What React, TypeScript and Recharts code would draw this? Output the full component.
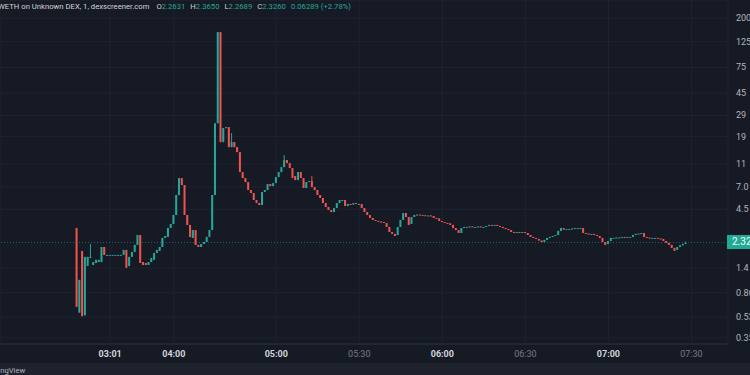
import { ComposedChart, Bar, XAxis, YAxis, CartesianGrid, ReferenceLine } from "recharts";

// 1-minute candles (price in WETH terms)
const opens = [
  3.11, 0.58, 1.97, 0.55, 1.46, 1.71, 1.49, 1.55, 1.58, 1.58,
  2.13, 1.82, 1.82, 1.82, 1.82, 1.82, 1.82, 1.82, 2.01, 1.46,
  1.75, 1.93, 2.22, 2.7, 1.58, 1.55, 1.49, 1.58, 1.65, 1.89,
  1.97, 2.13, 2.55, 2.6, 3.11, 3.36, 4.02, 5.97, 8.36, 7.28,
  4.02, 3.3, 2.55, 2.98, 2.22, 2.13, 2.26, 2.35, 2.6, 2.98,
  5.97, 24.8, 151, 17.05, 22.5, 22.95, 15.44, 17.05, 15.44, 13.99,
  9.41, 8.36, 7.72, 6.59, 6.21, 5.41, 5.1, 4.9, 6.34, 6.59,
  7.42, 7.13, 7.57, 8.53, 9.41, 10.39, 11.94, 11.25, 10.19, 8.7,
  8.03, 9.41, 8.36, 6.86, 7.72, 7.88, 6.99, 6.59, 5.97, 5.63,
  5.1, 4.71, 4.44, 4.26, 4.61, 5.1, 5.3, 5.41, 4.8, 5.0,
  4.95, 5.1, 5.0, 5.0, 4.61, 4.26, 4.02, 3.79, 3.64, 3.57,
  3.53, 3.5, 3.43, 3.17, 2.87, 2.76, 2.7, 3.17, 3.64, 4.18,
  3.86, 3.36, 3.86, 4.02, 4.05, 4.02, 4.0, 3.98, 3.98, 3.94,
  3.79, 3.75, 3.57, 3.5, 3.43, 3.4, 3.3, 3.1, 2.98, 2.81,
  3.1, 3.17, 3.17, 3.2, 3.17, 3.17, 3.2, 3.17, 3.17, 3.23,
  3.3, 3.26, 3.3, 3.23, 3.17, 3.1, 3.04, 2.98, 2.87, 2.81,
  2.87, 2.84, 2.87, 2.81, 2.7, 2.6, 2.55, 2.5, 2.42, 2.35,
  2.45, 2.55, 2.6, 2.65, 2.7, 2.93, 3.1, 3.01, 3.04, 3.04,
  3.07, 3.1, 3.1, 3.1, 2.81, 2.78, 2.76, 2.76, 2.7, 2.65,
  2.55, 2.35, 2.26, 2.4, 2.55, 2.55, 2.57, 2.57, 2.6, 2.57,
  2.6, 2.6, 2.7, 2.76, 2.78, 2.81, 2.6, 2.57, 2.55, 2.55,
  2.55, 2.52, 2.5, 2.4, 2.31, 2.22, 2.09, 2.01, 2.13, 2.2,
  2.2631,
];
const closes = [
  0.65, 1.11, 0.54, 1.75, 1.75, 1.75, 1.58, 1.65, 1.65, 2.13,
  1.82, 1.82, 1.82, 1.82, 1.82, 1.82, 1.82, 2.01, 1.41, 1.75,
  1.93, 2.22, 2.7, 1.55, 1.49, 1.49, 1.58, 1.71, 1.89, 2.01,
  2.13, 2.55, 2.65, 3.11, 3.36, 4.02, 5.97, 8.36, 7.28, 4.02,
  3.3, 2.6, 2.98, 2.22, 2.13, 2.26, 2.35, 2.6, 2.98, 5.97,
  24.8, 151, 17.05, 22.5, 22.95, 15.44, 17.05, 15.44, 13.99, 9.41,
  8.36, 7.72, 6.59, 6.21, 5.41, 5.1, 4.9, 6.34, 6.59, 7.42,
  7.13, 7.57, 8.53, 9.41, 10.39, 11.94, 11.25, 10.19, 8.36, 8.03,
  9.41, 8.36, 6.86, 7.72, 7.88, 6.99, 6.59, 5.97, 5.63, 5.1,
  4.71, 4.44, 4.26, 4.61, 5.1, 5.41, 5.41, 4.8, 5.0, 4.95,
  5.1, 5.0, 5.0, 4.61, 4.26, 4.02, 3.79, 3.64, 3.57, 3.53,
  3.5, 3.43, 3.17, 2.87, 2.76, 2.65, 3.17, 3.64, 4.18, 3.86,
  3.3, 3.86, 4.02, 4.05, 4.02, 4.0, 3.98, 3.98, 3.94, 3.79,
  3.75, 3.57, 3.5, 3.43, 3.4, 3.3, 3.1, 2.98, 2.81, 3.1,
  3.17, 3.17, 3.2, 3.17, 3.17, 3.2, 3.17, 3.17, 3.23, 3.3,
  3.26, 3.3, 3.23, 3.17, 3.1, 3.04, 2.98, 2.87, 2.81, 2.87,
  2.84, 2.87, 2.81, 2.7, 2.6, 2.55, 2.5, 2.42, 2.35, 2.45,
  2.55, 2.6, 2.65, 2.7, 2.93, 3.1, 3.01, 3.04, 3.04, 3.07,
  3.1, 3.1, 3.1, 2.81, 2.78, 2.76, 2.76, 2.7, 2.65, 2.55,
  2.35, 2.22, 2.4, 2.55, 2.55, 2.57, 2.57, 2.6, 2.57, 2.6,
  2.6, 2.7, 2.76, 2.78, 2.81, 2.6, 2.57, 2.55, 2.55, 2.55,
  2.52, 2.5, 2.4, 2.31, 2.22, 2.09, 1.97, 2.13, 2.2, 2.263,
  2.326,
];
// only the few candles with a visible upper wick
const wickAt = [5, 56, 75, 85, 220];
const wickHigh = [2.26, 20.4, 13.2, 8.7, 2.365];

const timeTicks = [12, 35, 72, 102, 132, 162, 192, 222];
const timeLabels = ["03:01", "04:00", "05:00", "05:30", "06:00", "06:30", "07:00", "07:30"];
const timeBold = [true, true, true, false, true, false, true, false];

const priceTicks = [320, 200, 125, 75, 45, 29, 19, 11, 7, 4.5, 1.4, 0.86, 0.53, 0.35];
const priceLabels = ["320", "200", "125", "75", "45", "29", "19", "11", "7.0", "4.5", "1.4", "0.86", "0.53", "0.35"];

const lastPrice = 2.326;

const GREEN = "#26a69a";
const RED = "#ef5350";
const BG = "#161a25";
const FONT = "Roboto, 'Noto Sans', sans-serif";

const candles = opens.map((o, i) => {
  const c = closes[i];
  const k = wickAt.indexOf(i);
  const high = Math.max(o, c, k >= 0 ? wickHigh[k] : 0);
  const low = Math.min(o, c);
  return { i, open: o, close: c, high, low, range: [low, high] };
});

const Candle = (props: any) => {
  const { x, y, width, height, payload } = props;
  const { open, close, high, low } = payload;
  const color = close >= open ? GREEN : RED;
  const top = Math.min(y, y + height);
  const h = Math.abs(height);
  const span = Math.log(high) - Math.log(low);
  const toY = (v: number) => (span > 0 ? top + (h * (Math.log(high) - Math.log(v))) / span : top);
  const bTop = toY(Math.max(open, close));
  const bBot = toY(Math.min(open, close));
  const cx = x + width / 2;
  return (
    <g>
      <line x1={cx} x2={cx} y1={top} y2={top + h} stroke={color} strokeWidth={1} />
      <rect x={x} y={bTop} width={width} height={Math.max(1, bBot - bTop)} fill={color} />
    </g>
  );
};

const TimeTick = (props: any) => {
  const { x, payload } = props;
  const k = timeTicks.indexOf(payload.value);
  const bold = timeBold[k];
  return (
    <text
      x={x}
      y={357}
      textAnchor="middle"
      fontSize={9}
      fontFamily={FONT}
      fontWeight={bold ? 700 : 400}
      fill={bold ? "#d1d4dc" : "#787b86"}
    >
      {timeLabels[k]}
    </text>
  );
};

const PriceTick = (props: any) => {
  const { y, payload } = props;
  const k = priceTicks.indexOf(payload.value);
  return (
    <text x={736} y={y + 3} fontSize={9} fontFamily={FONT} fill="#b2b5be">
      {priceLabels[k]}
    </text>
  );
};

const txt = { position: "absolute" as const, fontFamily: FONT, fontSize: 7.7, whiteSpace: "nowrap" as const };

export default function App() {
  return (
    <div
      style={{
        position: "fixed",
        left: 0,
        top: 0,
        width: 750,
        height: 375,
        overflow: "hidden",
        background: BG,
      }}
    >
      <ComposedChart
        width={750}
        height={363}
        data={candles}
        margin={{ top: 0, right: 0, bottom: 0, left: 0 }}
        style={{ overflow: "visible" }}
      >
        <CartesianGrid stroke="#1f2331" />
        <XAxis
          dataKey="i"
          type="number"
          domain={[-27.8, 235.2]}
          allowDataOverflow
          ticks={timeTicks}
          interval={0}
          height={19}
          tickLine={false}
          axisLine={{ stroke: "#2a2e39" }}
          tick={<TimeTick />}
        />
        <YAxis
          orientation="right"
          scale="log"
          type="number"
          domain={[0.311, 285.8]}
          allowDataOverflow
          ticks={priceTicks}
          interval={0}
          width={22}
          tickLine={false}
          axisLine={false}
          tick={<PriceTick />}
        />
        <ReferenceLine y={lastPrice} stroke={GREEN} strokeOpacity={0.55} strokeDasharray="1 2" />
        <Bar dataKey="range" barSize={2} isAnimationActive={false} shape={<Candle />} />
      </ComposedChart>

      <div style={{ ...txt, left: -2, top: 2, color: "#d1d4dc" }}>
        WETH on Unknown DEX, 1, dexscreener.com
        <span style={{ marginLeft: 7 }}>O</span>
        <span style={{ color: GREEN }}>2.2631</span>
        <span style={{ marginLeft: 5 }}>H</span>
        <span style={{ color: GREEN }}>2.3650</span>
        <span style={{ marginLeft: 5 }}>L</span>
        <span style={{ color: GREEN }}>2.2689</span>
        <span style={{ marginLeft: 5 }}>C</span>
        <span style={{ color: GREEN }}>2.3260</span>
        <span style={{ color: GREEN, marginLeft: 5 }}>0.06289 (+2.78%)</span>
      </div>

      <div
        style={{
          ...txt,
          left: 727,
          top: 235,
          width: 30,
          height: 14,
          lineHeight: "14px",
          paddingLeft: 5,
          fontSize: 10,
          background: "#22ab94",
          color: "#ffffff",
        }}
      >
        2.3260
      </div>

      <div style={{ position: "absolute", left: 0, top: 363, width: 750, height: 12, background: "#1e222d" }} />
      <div style={{ ...txt, left: -17, top: 366, color: "#b2b5be" }}>TradingView</div>
    </div>
  );
}
